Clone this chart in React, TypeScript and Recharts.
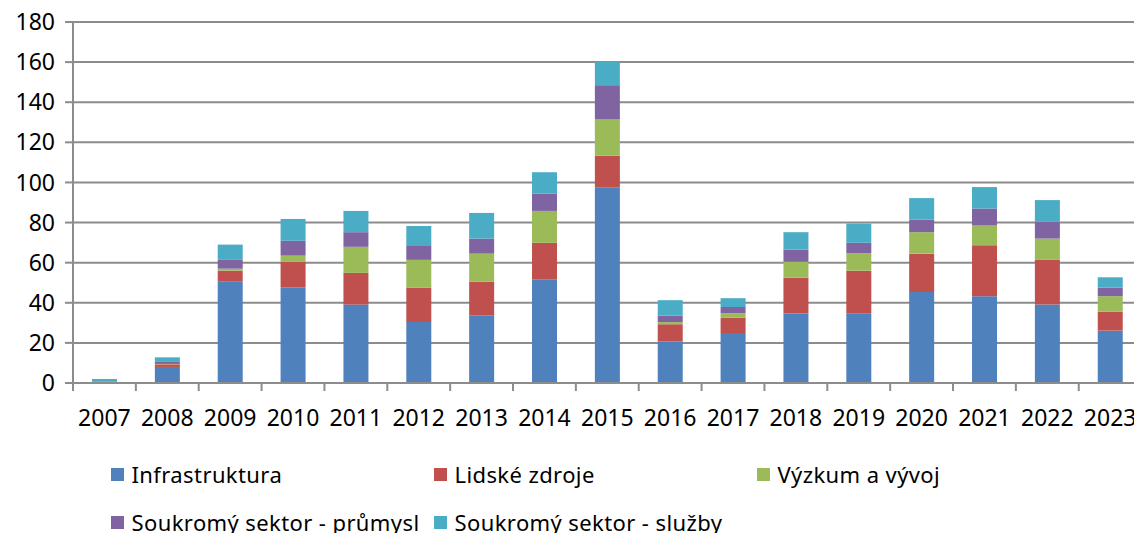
import React from 'react';
import { BarChart, Bar, XAxis, YAxis, CartesianGrid, Legend } from 'recharts';

const years = ['2007','2008','2009','2010','2011','2012','2013','2014','2015','2016','2017','2018','2019','2020','2021','2022','2023'];
const infrastruktura = [0.5, 8, 50.7, 47.8, 39.1, 30.4, 33.8, 51.7, 97.6, 20.6, 24.9, 34.6, 34.8, 45.4, 43.3, 39.1, 26.1];
const lidskeZdroje = [0, 1.3, 5.3, 12.6, 15.8, 17.2, 16.7, 18.2, 15.8, 8.7, 7.7, 17.9, 21.2, 19.1, 25.4, 22.3, 9.5];
const vyzkum = [0, 0.2, 1, 3.1, 13, 13.8, 14, 15.9, 18.2, 1.1, 2.2, 7.9, 8.7, 10.7, 9.8, 10.6, 7.7];
const prumysl = [0.3, 1, 4.4, 7.4, 7.3, 7.3, 7.5, 8.7, 16.9, 3.2, 3.1, 6.1, 5.2, 6.3, 8.5, 8.5, 4.3];
const sluzby = [1.2, 2.3, 7.6, 10.9, 10.6, 9.6, 12.8, 10.6, 11.8, 7.7, 4.4, 8.7, 9.6, 10.7, 10.7, 10.7, 5.1];
const yTicks = [0, 20, 40, 60, 80, 100, 120, 140, 160, 180];

const seriesDefs = [
  { key: 'infra', name: 'Infrastruktura', color: '#4F81BD', values: infrastruktura },
  { key: 'lidske', name: 'Lidské zdroje', color: '#C0504D', values: lidskeZdroje },
  { key: 'vyzkum', name: 'Výzkum a vývoj', color: '#9BBB59', values: vyzkum },
  { key: 'prumysl', name: 'Soukromý sektor - průmysl', color: '#8064A2', values: prumysl },
  { key: 'sluzby', name: 'Soukromý sektor - služby', color: '#4BACC6', values: sluzby },
];

const data = years.map((y, i) => {
  const row: any = { year: y };
  seriesDefs.forEach((s) => { row[s.key] = s.values[i]; });
  return row;
});

const CHART_W = 1160;
const CHART_H = 533;
const MARGIN = { top: 22, right: 18.4, left: 0, bottom: 0 };
const Y_W = 73;
const BAND = (CHART_W - MARGIN.right - MARGIN.left - Y_W) / years.length;
const GRID = '#8c8c8c';
const FONT = '"Noto Sans", sans-serif';
const TICK_SIZE = 8;
const TICK_MARGIN = 19;

const XTick = (props: any) => {
  const { x, y, payload, index } = props;
  const y0 = y - TICK_SIZE - TICK_MARGIN;
  return (
    <g>
      <line x1={x - BAND / 2} x2={x - BAND / 2} y1={y0} y2={y0 + TICK_SIZE} stroke={GRID} strokeWidth={2} />
      {index === years.length - 1 && (
        <line x1={x + BAND / 2} x2={x + BAND / 2} y1={y0} y2={y0 + TICK_SIZE} stroke={GRID} strokeWidth={2} />
      )}
      <text x={x} y={y} dy="0.71em" textAnchor="middle" fill="#000" fontSize={23} fontFamily={FONT}>
        {payload.value}
      </text>
    </g>
  );
};

const LegendContent = () => {
  return (
    <div style={{ position: 'relative', width: 1134, height: 90, fontFamily: FONT }}>
      {seriesDefs.map((s, i) => {
        const col = i % 3;
        const row = Math.floor(i / 3);
        return (
          <div
            key={s.key}
            style={{
              position: 'absolute',
              left: 110.5 + col * 323,
              top: 31 + row * 48 - 13,
              height: 26,
              display: 'flex',
              alignItems: 'center',
              whiteSpace: 'nowrap',
            }}
          >
            <span style={{ display: 'inline-block', width: 13, height: 13, background: s.color, marginRight: 8 }} />
            <span style={{ fontSize: 22, lineHeight: '26px', color: '#000', letterSpacing: 0.4 }}>{s.name}</span>
          </div>
        );
      })}
    </div>
  );
};

export default function App() {
  return (
    <div style={{ position: 'fixed', left: 0, top: 0, width: 1134, height: 533, overflow: 'hidden', background: '#fff' }}>
      <BarChart width={CHART_W} height={CHART_H} data={data} margin={MARGIN} barSize={25}>
        <CartesianGrid vertical={false} stroke={GRID} strokeWidth={2} />
        <XAxis
          dataKey="year"
          height={60}
          tickSize={TICK_SIZE}
          tickMargin={TICK_MARGIN}
          tickLine={false}
          axisLine={{ stroke: GRID, strokeWidth: 2 }}
          tick={<XTick />}
          interval={0}
        />
        <YAxis
          width={Y_W}
          domain={[0, 180]}
          ticks={yTicks}
          interval={0}
          tickSize={TICK_SIZE}
          tickMargin={10}
          axisLine={{ stroke: GRID, strokeWidth: 2 }}
          tickLine={{ stroke: GRID, strokeWidth: 2 }}
          tick={{ fill: '#000', fontSize: 23, fontFamily: FONT }}
        />
        <Legend verticalAlign="bottom" align="left" content={<LegendContent />} wrapperStyle={{ left: 0, bottom: 0, width: 1134, height: 90 }} />
        {seriesDefs.map((s) => (
          <Bar key={s.key} dataKey={s.key} name={s.name} stackId="a" fill={s.color} isAnimationActive={false} />
        ))}
      </BarChart>
    </div>
  );
}
